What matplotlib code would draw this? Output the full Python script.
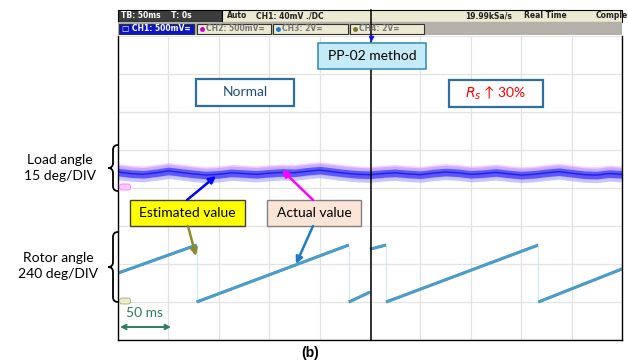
import numpy as np
import matplotlib.pyplot as plt
from matplotlib.patches import Rectangle, FancyBboxPatch, PathPatch
from matplotlib.path import Path

plt.rcParams['font.family'] = ['Lato', 'DejaVu Sans']

# screen: 10 div x 50 ms, 8 div vertical
# rotor angle (div, ref at 1 div, 240 deg/DIV) - vertices of the sawtooth
rotor_left_t = [0, 78, 78, 229, 229, 250]
rotor_left_v = [1.76, 2.50, 1.00, 2.50, 1.00, 1.26]
rotor_right_t = [250, 266, 266, 417, 417, 500]
rotor_right_v = [2.39, 2.50, 1.00, 2.50, 1.00, 1.87]

# load angle band centre (div, ref at 4 div, 15 deg/DIV)
load_t = np.arange(0, 501, 12.5)
load_v = [4.42, 4.38, 4.36, 4.40, 4.45, 4.41, 4.37, 4.34, 4.36, 4.40, 4.38,
          4.36, 4.39, 4.41, 4.40, 4.44, 4.47, 4.43, 4.39, 4.36, 4.35,
          4.38, 4.40, 4.37, 4.35, 4.39, 4.42, 4.40, 4.36, 4.38, 4.41,
          4.37, 4.34, 4.36, 4.40, 4.43, 4.39, 4.35, 4.34, 4.38, 4.36]

fig = plt.figure(figsize=(6.28, 3.63), dpi=100)
W, H = 628, 363

ax = fig.add_axes([118 / W, 23 / H, 504 / W, 304 / H])
ax.set_xlim(0, 500)
ax.set_ylim(0, 8)
ax.set_xticks(np.arange(0, 501, 50))
ax.set_yticks(np.arange(0, 9, 1))
ax.set_axisbelow(True)
ax.grid(color='#e3e3e3', lw=0.9)
ax.tick_params(length=0, labelbottom=False, labelleft=False)
ax.spines['top'].set_visible(False)
for s in ['left', 'bottom', 'right']:
    ax.spines[s].set_color('black')
    ax.spines[s].set_linewidth(1.0)

# load angle: estimated (blue) over actual (pink)
lv = np.array(load_v)
ax.fill_between(load_t, lv - 0.12, lv + 0.22, color='#ff88ff', alpha=0.45, lw=0)
ax.fill_between(load_t, lv - 0.20, lv + 0.18, color='#9a9aff', alpha=0.55, lw=0)
ax.fill_between(load_t, lv - 0.10, lv + 0.10, color='#3a3aff', alpha=0.75, lw=0)
ax.plot(load_t, lv, color='#2020e0', lw=1.0)

# rotor angle sawtooth
for tt, vv in [(rotor_left_t, rotor_left_v), (rotor_right_t, rotor_right_v)]:
    for i in range(len(tt) - 1):
        seg_t = tt[i:i + 2]
        seg_v = vv[i:i + 2]
        if seg_t[0] == seg_t[1]:
            ax.plot(seg_t, seg_v, color='#cfe8f7', lw=0.8)
        else:
            ax.plot(seg_t, seg_v, color='#8f8f3a', lw=2.2, solid_capstyle='butt')
            ax.plot(seg_t, seg_v, color='#3ca0e4', lw=1.8, solid_capstyle='butt')

# overlay in pixel coordinates
ov = fig.add_axes([0, 0, 1, 1], zorder=5)
ov.set_xlim(0, W)
ov.set_ylim(H, 0)
ov.axis('off')

hdr = dict(fontsize=5.5, weight='bold', va='center', family='DejaVu Sans')
ov.add_patch(Rectangle((118, 10), 104, 12, fc='#3c3c3c', ec='black', lw=0.8))
ov.text(121, 16, 'TB: 50ms    T: 0s', color='white', **hdr)
ov.add_patch(Rectangle((222, 10), 400, 12, fc='#ecead0', ec='black', lw=0.8))
ov.text(227, 16, 'Auto', color='#222222', **hdr)
ov.text(256, 16, 'CH1: 40mV ./DC', color='#222222', **hdr)
ov.text(465, 16, '19.99kSa/s', color='#222222', **hdr)
ov.text(524, 16, 'Real Time', color='#222222', **hdr)
ov.text(596, 16, 'Comple', color='#222222', clip_on=True, **hdr)
ov.add_patch(Rectangle((118, 22), 504, 13, fc='#b3b1a9', ec='none'))

chips = [(119, 75, '#0a14c8', 'white', '\u25a1 CH1: 500mV=', None),
         (197, 74, '#ecead0', '#777777', 'CH2: 500mV=', '#cc00cc'),
         (273, 75, '#ecead0', '#777777', 'CH3: 2V=', '#1f77d0'),
         (350, 74, '#ecead0', '#777777', 'CH4: 2V=', '#7a7a20')]
for x0, w, fc, tc, label, dot in chips:
    ov.add_patch(Rectangle((x0, 23.5), w, 10, fc=fc, ec='#333333', lw=0.8))
    tx = x0 + 3
    if dot:
        ov.plot(x0 + 5, 28.5, 'o', ms=2.5, color=dot)
        tx = x0 + 9
    ov.text(tx, 28.5, label, color=tc, **hdr)

# splice line between the two screenshots
ov.plot([371, 371], [10, 340], color='black', lw=1.1)
ov.plot(371, 38, 'v', ms=3, color='#1010ff')

# reference markers
ov.add_patch(FancyBboxPatch((120, 184.5), 10, 5, boxstyle='round,pad=0.5,rounding_size=2.5',
                            fc='#ffc8ff', ec='#ff77ff', lw=0.6))
ov.add_patch(FancyBboxPatch((120, 298.5), 10, 5, boxstyle='round,pad=0.5,rounding_size=2.5',
                            fc='#ecebc8', ec='#a8a868', lw=0.6))

# text boxes
def box(x0, y0, x1, y1, fc, ec, lw, text, tc, size=10):
    ov.add_patch(Rectangle((x0, y0), x1 - x0, y1 - y0, fc=fc, ec=ec, lw=lw, zorder=3))
    ov.text((x0 + x1) / 2, (y0 + y1) / 2, text, color=tc, fontsize=size,
            ha='center', va='center', zorder=4)

box(318, 43, 426, 69, '#c6ebf8', '#3a93bb', 1.2, 'PP-02 method', 'black')
box(196, 79, 294, 106, 'white', '#2f6f9f', 1.6, 'Normal', '#1f4e79')
box(449, 80, 543, 107, 'white', '#2f6f9f', 1.6, r'$R_s$' + ' \u2191 30%', '#ff0000')
box(130, 200, 245, 226, '#ffff00', '#3f3f3f', 1.0, 'Estimated value', 'black')
box(267, 200, 361, 226, '#fce4d6', '#808080', 1.0, 'Actual value', 'black')

arrows = [((187, 200), (216, 176), '#0000ff'),
          ((313, 200), (282, 170), '#ff00ff'),
          ((188, 226), (196, 256), '#8c8c2a'),
          ((313, 226), (296, 264), '#1f7bc8')]
for start, end, c in arrows:
    ov.annotate('', xy=end, xytext=start,
                arrowprops=dict(arrowstyle='-|>', color=c, lw=1.8, mutation_scale=10,
                                shrinkA=0, shrinkB=0))

# 50 ms scale
ov.annotate('', xy=(120, 327), xytext=(171, 327),
            arrowprops=dict(arrowstyle='<->', color='#2e7d5c', lw=1.4, mutation_scale=8,
                            shrinkA=0, shrinkB=0))
ov.text(144, 313, '50 ms', color='#2e7d5c', fontsize=10, ha='center', va='center')

# braces and labels
def brace(y0, y1, xr=118, xm=113, xl=108):
    ym = (y0 + y1) / 2
    r = 5
    verts = [(xr, y0), (xm, y0), (xm, y0 + r), (xm, ym - r), (xm, ym), (xl, ym),
             (xm, ym), (xm, ym + r), (xm, y1 - r), (xm, y1), (xr, y1)]
    codes = [Path.MOVETO, Path.CURVE3, Path.CURVE3, Path.LINETO, Path.CURVE3, Path.CURVE3,
             Path.CURVE3, Path.CURVE3, Path.LINETO, Path.CURVE3, Path.CURVE3]
    ov.add_patch(PathPatch(Path(verts, codes), fc='none', ec='black', lw=1.3))

brace(145, 191)
brace(232, 302)
ov.text(60, 168, 'Load angle\n15 deg/DIV', fontsize=10, ha='center', va='center',
        linespacing=1.35)
ov.text(58, 266, 'Rotor angle\n240 deg/DIV', fontsize=10, ha='center', va='center',
        linespacing=1.35)

ov.text(310, 353, '(b)', fontsize=10, weight='bold', ha='center', va='center',
        family='Liberation Sans')

fig.savefig('out.png', dpi=100)
